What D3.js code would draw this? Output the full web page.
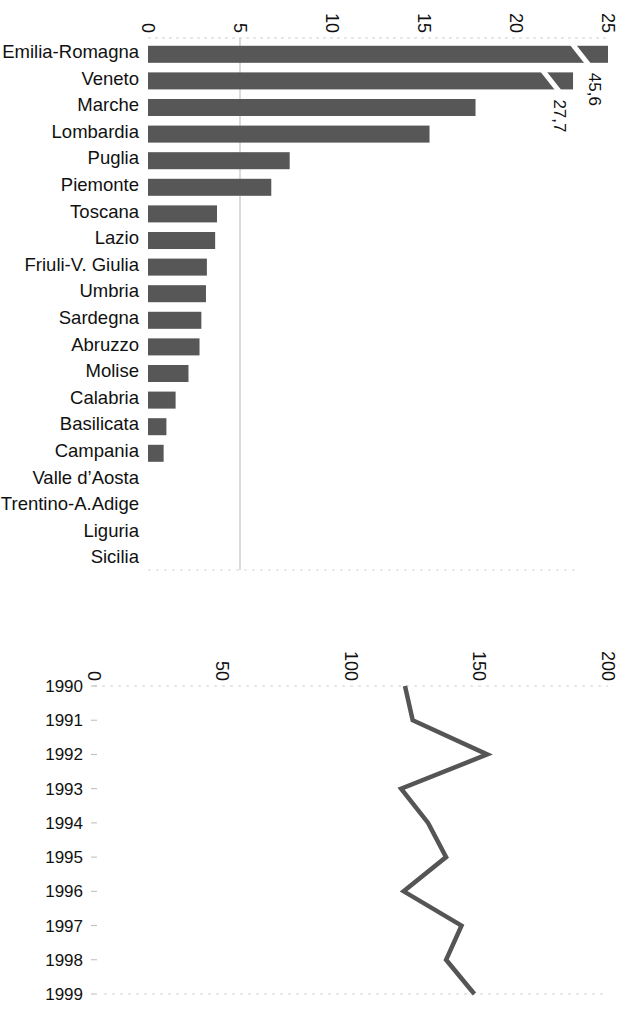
<!DOCTYPE html>
<html><head><meta charset="utf-8">
<script src="https://cdn.jsdelivr.net/npm/d3@7"></script>
<style>
html,body{margin:0;padding:0;background:#fff;}
text{font-family:"Liberation Sans",Arial,sans-serif;fill:#111;}
</style></head>
<body>
<svg id="c" width="627" height="1009"></svg>
<script>
// ---- data: top chart ----
const regions = ["Emilia-Romagna","Veneto","Marche","Lombardia","Puglia","Piemonte","Toscana","Lazio",
  "Friuli-V. Giulia","Umbria","Sardegna","Abruzzo","Molise","Calabria","Basilicata","Campania",
  "Valle d\u2019Aosta","Trentino-A.Adige","Liguria","Sicilia"];
const regionValues = [45.6,27.7,17.8,15.3,7.7,6.7,3.75,3.65,3.2,3.15,2.9,2.8,2.2,1.5,1.0,0.85,0,0,0,0];
const barTicks = [0,5,10,15,20,25];
const barMax = 25;
// broken bars: value shown to, and where the break sits (in axis units)
const brokenNames = ["Emilia-Romagna","Veneto"];
const brokenShownTo = [25, 23.1];
const brokenBreakAt = [23.5, 21.9];
const brokenLabels = ["45,6","27,7"];

// ---- data: bottom chart ----
const years = ["1990","1991","1992","1993","1994","1995","1996","1997","1998","1999"];
const yearValues = [121,124,153,119.5,130,137,120.5,143,137,148];
const lineTicks = [0,50,100,150,200];

const svg = d3.select("#c");
const barColor = "#575757";

// ===== Top chart =====
const x1 = d3.scaleLinear().domain([0, barMax]).range([148, 608]);
const y1 = d3.scaleBand().domain(regions).range([41, 573]).paddingInner(0.36).paddingOuter(0.18);
const top1 = 38, bot1 = 570;

// dotted frame lines
svg.append("line").attr("x1", x1(0)).attr("x2", x1(barMax)).attr("y1", top1).attr("y2", top1)
  .attr("stroke", "#cfcfcf").attr("stroke-dasharray", "3,4");
svg.append("line").attr("x1", x1(0)).attr("x2", x1(barMax)*0.95).attr("y1", bot1).attr("y2", bot1)
  .attr("stroke", "#d5d5d5").attr("stroke-dasharray", "3,5");
// gridline at 5
svg.append("line").attr("x1", x1(5)).attr("x2", x1(5)).attr("y1", top1).attr("y2", bot1)
  .attr("stroke", "#b5b5b5").attr("stroke-width", 1);

// tick labels (rotated)
svg.append("g").selectAll("text").data(barTicks).join("text")
  .attr("transform", d => `translate(${x1(d)},33) rotate(90)`)
  .attr("text-anchor", "end").attr("dy", "0.35em")
  .style("font-size", "18px").text(d => d);

// bars
const shown = (d, i) => {
  const k = brokenNames.indexOf(d);
  return k >= 0 ? brokenShownTo[k] : Math.min(regionValues[i], barMax);
};
svg.append("g").selectAll("rect").data(regions).join("rect")
  .attr("x", x1(0)).attr("y", d => y1(d))
  .attr("width", (d, i) => x1(shown(d, i)) - x1(0))
  .attr("height", y1.bandwidth())
  .attr("fill", barColor);

// break marks
brokenNames.forEach((n, k) => {
  const yt = y1(n) - 1, yb = y1(n) + y1.bandwidth() + 1;
  const xc = x1(brokenBreakAt[k]);
  const half = 3.2, slant = 7.5;
  svg.append("polygon")
    .attr("points", [[xc - slant - half, yt],[xc - slant + half, yt],[xc + slant + half, yb],[xc + slant - half, yb]].join(" "))
    .attr("fill", "#fff");
  // value label rotated
  svg.append("text")
    .attr("transform", `translate(${x1(brokenShownTo[k]) - 13},${yb + 9}) rotate(90)`)
    .attr("text-anchor", "start").attr("dy", "0.35em")
    .style("font-size", "17px").text(brokenLabels[k]);
});

// category labels
svg.append("g").selectAll("text").data(regions).join("text")
  .attr("x", 139).attr("y", d => y1(d) + y1.bandwidth() / 2)
  .attr("dy", "0.2em").attr("text-anchor", "end")
  .style("font-size", "18.5px").text(d => d);

// ===== Bottom chart =====
const x2 = d3.scaleLinear().domain([0, 200]).range([94, 608]);
const y2 = d3.scalePoint().domain(years).range([686, 994]);

svg.append("line").attr("x1", x2(0)).attr("x2", x2(200)).attr("y1", 686).attr("y2", 686)
  .attr("stroke", "#d0d0d0").attr("stroke-dasharray", "3,5");
svg.append("line").attr("x1", x2(0) + 10).attr("x2", x2(200)).attr("y1", 994).attr("y2", 994)
  .attr("stroke", "#d0d0d0").attr("stroke-dasharray", "3,5");

svg.append("g").selectAll("text").data(lineTicks).join("text")
  .attr("transform", d => `translate(${x2(d)},681) rotate(90)`)
  .attr("text-anchor", "end").attr("dy", "0.35em")
  .style("font-size", "18px").text(d => d);

// year ticks
svg.append("g").selectAll("line").data(years).join("line")
  .attr("x1", 91).attr("x2", 97).attr("y1", d => y2(d)).attr("y2", d => y2(d))
  .attr("stroke", "#bbb");
svg.append("g").selectAll("text").data(years).join("text")
  .attr("x", 83).attr("y", d => y2(d)).attr("dy", "0.35em").attr("text-anchor", "end")
  .style("font-size", "17px").text(d => d);

const line = d3.line().x(d => x2(d[1])).y(d => y2(d[0]));
svg.append("path").datum(years.map((y, i) => [y, yearValues[i]]))
  .attr("d", line).attr("fill", "none").attr("stroke", "#555")
  .attr("stroke-width", 4.5).attr("stroke-linejoin", "miter");
</script>
</body></html>
